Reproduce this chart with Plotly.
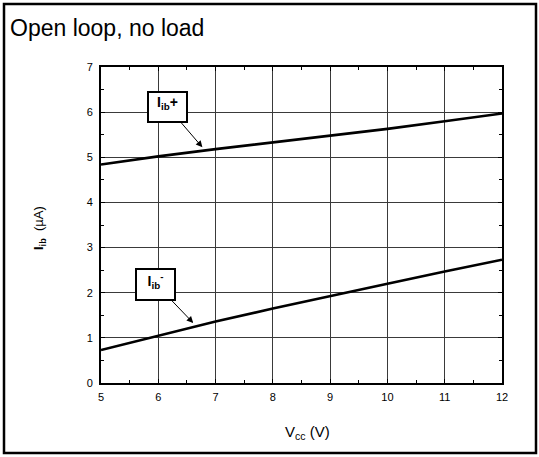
import plotly.graph_objects as go

# Data
vcc = [5, 6, 7, 8, 9, 10, 11, 12]
iib_plus = [4.84, 5.02, 5.18, 5.33, 5.48, 5.63, 5.80, 5.97]
iib_minus = [0.73, 1.05, 1.36, 1.65, 1.93, 2.20, 2.47, 2.73]
x_ticks = [5, 6, 7, 8, 9, 10, 11, 12]
y_ticks = [0, 1, 2, 3, 4, 5, 6, 7]

FONT = "Liberation Sans, Arial, Helvetica, sans-serif"

fig = go.Figure()
fig.add_trace(go.Scatter(x=vcc, y=iib_plus, mode="lines",
                         line=dict(color="black", width=2.6), showlegend=False))
fig.add_trace(go.Scatter(x=vcc, y=iib_minus, mode="lines",
                         line=dict(color="black", width=2.6), showlegend=False))

axis_common = dict(
    showline=True, linecolor="black", linewidth=2, mirror="allticks",
    showgrid=True, gridcolor="#3a3a3a", gridwidth=1.2,
    ticks="inside", ticklen=4, tickwidth=1, tickcolor="black",
    tickfont=dict(family=FONT, size=11, color="black"),
    zeroline=False,
    minor=dict(dtick=0.5, ticks="inside", ticklen=3, tickwidth=1,
               tickcolor="black", showgrid=False),
)

fig.update_xaxes(range=[5, 12], tickvals=x_ticks, ticklabelstandoff=3, **axis_common)
fig.update_yaxes(range=[0, 7], tickvals=y_ticks, ticklabelstandoff=4, **axis_common)

W, H = 539, 457
L, R, T, B = 101, 37, 67, 74
pw, ph = W - L - R, H - T - B

def px(xpix):
    return (xpix - L) / pw

def py(ypix):
    return (H - B - ypix) / ph

annotations = [
    dict(text="Open loop, no load", xref="paper", yref="paper",
         x=px(8), y=py(28), xanchor="left", yanchor="middle", showarrow=False,
         font=dict(family=FONT, size=23, color="black")),
    dict(text="<b>I<sub>ib</sub></b>  (µA)", xref="paper", yref="paper",
         x=px(39), y=py(228), xanchor="center", yanchor="middle", textangle=-90,
         showarrow=False, font=dict(family=FONT, size=13, color="black")),
    dict(text="V<sub>cc</sub> (V)", xref="paper", yref="paper",
         x=px(307), y=py(432), xanchor="center", yanchor="middle",
         showarrow=False, font=dict(family=FONT, size=15, color="black")),
    dict(text="<b>I<sub>ib</sub>+</b>", x=6.77, y=5.22, xref="x", yref="y",
         ax=6.16, ay=6.12, axref="x", ayref="y",
         showarrow=True, arrowhead=2, arrowsize=1.3, arrowwidth=1, arrowcolor="black",
         bordercolor="black", borderwidth=2, borderpad=1, bgcolor="white",
         width=35, height=26, valign="top",
         font=dict(family=FONT, size=14, color="black")),
    dict(text="<b>I<sub>ib</sub><sup>-</sup></b>", x=6.61, y=1.33, xref="x", yref="y",
         ax=5.96, ay=2.19, axref="x", ayref="y",
         showarrow=True, arrowhead=2, arrowsize=1.3, arrowwidth=1, arrowcolor="black",
         bordercolor="black", borderwidth=2, borderpad=1, bgcolor="white",
         width=35, height=27, valign="top",
         font=dict(family=FONT, size=14, color="black")),
]

shapes = [
    dict(type="rect", xref="paper", yref="paper",
         x0=px(4), x1=px(536), y0=py(453), y1=py(4),
         line=dict(color="black", width=2.5), fillcolor="rgba(0,0,0,0)", layer="below"),
]

fig.update_layout(
    width=W, height=H,
    margin=dict(l=L, r=R, t=T, b=B, pad=0),
    paper_bgcolor="white", plot_bgcolor="white",
    annotations=annotations, shapes=shapes,
    font=dict(family=FONT, color="black"),
)

fig.write_html("out.html", config={"displayModeBar": False},
               post_script="document.body.style.margin='0';document.body.style.padding='0';")
